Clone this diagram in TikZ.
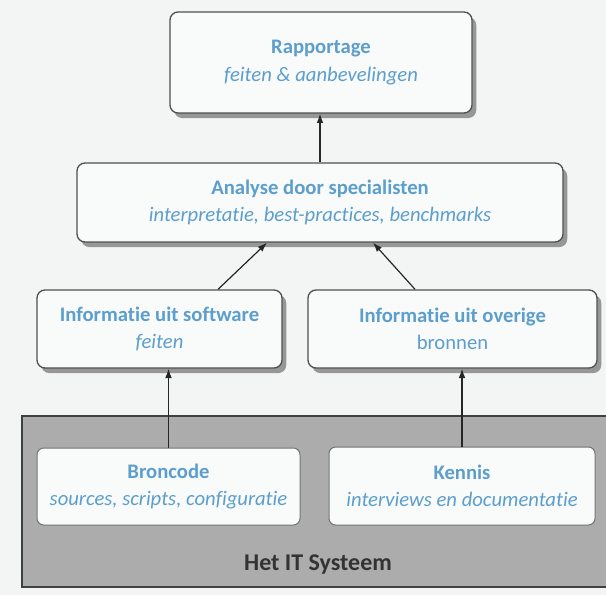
\documentclass[tikz,border=0pt]{standalone}
\usepackage{fontspec}
\setmainfont[Ligatures=NoCommon]{Carlito}
\usepackage{tikz}
\usetikzlibrary{arrows,arrows.meta,shadows}

\definecolor{bgpaper}{RGB}{243,245,245}
\definecolor{boxfill}{RGB}{249,250,250}
\definecolor{boxline}{RGB}{80,80,80}
\definecolor{txtblue}{RGB}{92,158,204}
\definecolor{sysgray}{RGB}{172,172,172}

\tikzset{
  layerbox/.style={draw=boxline, fill=boxfill, line width=1pt, rounded corners=6pt,
    inner sep=0pt, align=center, text=txtblue,
    font=\fontsize{15.5}{20.5}\selectfont,
    drop shadow={shadow xshift=3.2pt, shadow yshift=-3.8pt, fill=black!60, opacity=0.65}},
  srcbox/.style={draw=boxline!80, fill=boxfill, line width=0.75pt, rounded corners=5pt,
    inner sep=0pt, align=center, text=txtblue,
    font=\fontsize{15.5}{20.5}\selectfont},
  sysbox/.style={draw=black!75, fill=sysgray, line width=1pt, inner sep=0pt},
  uparrow/.style={-{Latex[length=7pt,width=5pt]}, line width=0.9pt, black!85}
}

\begin{document}
\begin{tikzpicture}[x=0.75pt,y=0.75pt,yscale=-1,xscale=1]
%set diagram size to 606 x 595
\fill[bgpaper] (0,0) rectangle (606,595);
\useasboundingbox (0,0) rectangle (606,595);

%Shape: Rectangle [het it systeem]
\begin{scope}
\clip (0,0) rectangle (606,595);
\node[sysbox, minimum width=442.5pt, minimum height=128.25pt] (sys) at (317,501.5) {};
\end{scope}

% Text Node
\node[srcbox, minimum width=197.25pt, minimum height=57.75pt] (bron) at (168.5,486.5)
  {\textbf{Broncode}\\\textit{sources, scripts, configuratie}};
% Text Node
\node[srcbox, minimum width=199.5pt, minimum height=58.5pt] (ken) at (462,486)
  {\textbf{Kennis}\\\textit{interviews en documentatie}};
% Text Node
\node[font=\fontsize{18}{22}\selectfont\bfseries, text=black!80] (systxt) at (318,565) {Het IT Systeem};

% Text Node
\node[layerbox, minimum width=183.75pt, minimum height=58.5pt] (infsw) at (159.5,329)
  {\textbf{Informatie uit software}\\\textit{feiten}};
% Text Node
\node[layerbox, minimum width=216.75pt, minimum height=58.5pt] (infov) at (452.5,329)
  {\textbf{Informatie uit overige}\\bronnen};

% Text Node
\node[layerbox, minimum width=364.5pt, minimum height=59.25pt] (ana) at (320,202.5)
  {\textbf{Analyse door specialisten}\\\textit{interpretatie, best-practices, benchmarks}};

% Text Node
\node[layerbox, minimum width=226.5pt, minimum height=75.75pt] (rap) at (321,62.5)
  {\textbf{Rapportage}\\\textit{feiten \& aanbevelingen}};

%Straight Lines
\draw[uparrow] (bron.north) -- (bron.north |- infsw.south);
\draw[uparrow] (ken.north) -- (ken.north |- infov.south);
\draw[uparrow] ([xshift=43.9pt]infsw.north) -- ([xshift=-39.75pt]ana.south);
\draw[uparrow] ([xshift=-28.1pt]infov.north) -- ([xshift=39.75pt]ana.south);
\draw[uparrow] (ana.north) -- (ana.north |- rap.south);

\end{tikzpicture}
\end{document}
